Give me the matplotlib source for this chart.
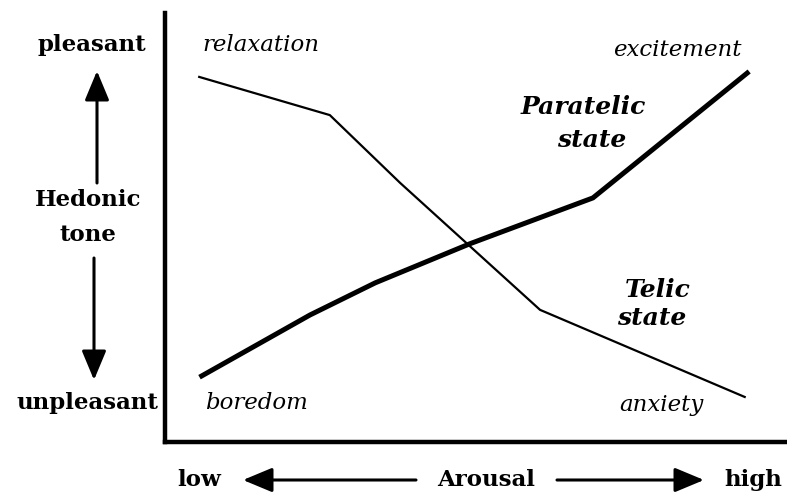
import matplotlib
matplotlib.use("Agg")
import matplotlib.pyplot as plt
from matplotlib.patches import FancyArrowPatch

# Data (arousal 0-100, hedonic tone 0-100)
telic_x = [5.5, 26.5, 37.8, 60.3, 93.2]
telic_y = [85.1, 76.2, 60.4, 30.8, 10.5]
paratelic_x = [5.9, 23.3, 33.8, 49.0, 68.8, 93.6]
paratelic_y = [15.4, 29.6, 37.1, 46.2, 56.9, 86.0]

W, H = 787, 493
fig = plt.figure(figsize=(W / 100, H / 100), dpi=100)

# main axes in pixel placement: left 165, right 787, top 13, bottom 442
ax = fig.add_axes([165 / W, 1 - 442 / H, (787 - 165) / W, (442 - 13) / H])
ax.set_xlim(0, 100)
ax.set_ylim(0, 100)
ax.plot(telic_x, telic_y, color="black", lw=1.6, solid_joinstyle="round")
ax.plot(paratelic_x, paratelic_y, color="black", lw=3.6, solid_joinstyle="round")
for s in ["top", "right"]:
    ax.spines[s].set_visible(False)
for s in ["left", "bottom"]:
    ax.spines[s].set_linewidth(3.2)
ax.set_xticks([])
ax.set_yticks([])

# overlay in pixel coords for annotations
ov = fig.add_axes([0, 0, 1, 1], facecolor="none")
ov.set_xlim(0, W)
ov.set_ylim(H, 0)
ov.axis("off")

bold = dict(family="DejaVu Serif", fontweight="bold", fontsize=16.5, color="black")
ital = dict(family="DejaVu Serif", fontstyle="italic", fontsize=16.5, color="black")
bital = dict(family="DejaVu Serif", fontstyle="italic", fontweight="bold", fontsize=18, color="black")

ov.text(92, 45, "pleasant", ha="center", va="center", **bold)
ov.text(88, 200, "Hedonic", ha="center", va="center", **bold)
ov.text(88, 235, "tone", ha="center", va="center", **bold)
ov.text(87, 403, "unpleasant", ha="center", va="center", **bold)
ov.text(199, 480, "low", ha="center", va="center", **bold)
ov.text(486, 480, "Arousal", ha="center", va="center", **bold)
ov.text(753, 480, "high", ha="center", va="center", **bold)

ov.text(261, 45, "relaxation", ha="center", va="center", **ital)
ov.text(677, 50, "excitement", ha="center", va="center", **ital)
ov.text(256, 403, "boredom", ha="center", va="center", **ital)
ov.text(661, 405, "anxiety", ha="center", va="center", **ital)

ov.text(583, 107, "Paratelic", ha="center", va="center", **bital)
ov.text(592, 140, "state", ha="center", va="center", **bital)
ov.text(658, 290, "Telic", ha="center", va="center", **bital)
ov.text(652, 318, "state", ha="center", va="center", **bital)

def arrow(x0, y0, x1, y1):
    a = FancyArrowPatch((x0, y0), (x1, y1), arrowstyle="-|>,head_length=1.2,head_width=0.5",
                        mutation_scale=15, lw=2.2, color="black", shrinkA=0, shrinkB=0)
    ov.add_patch(a)

arrow(97, 183, 97, 71)
arrow(94, 258, 94, 380)
arrow(416, 480, 243, 480)
arrow(557, 480, 704, 480)

fig.savefig("out.png", dpi=100)
